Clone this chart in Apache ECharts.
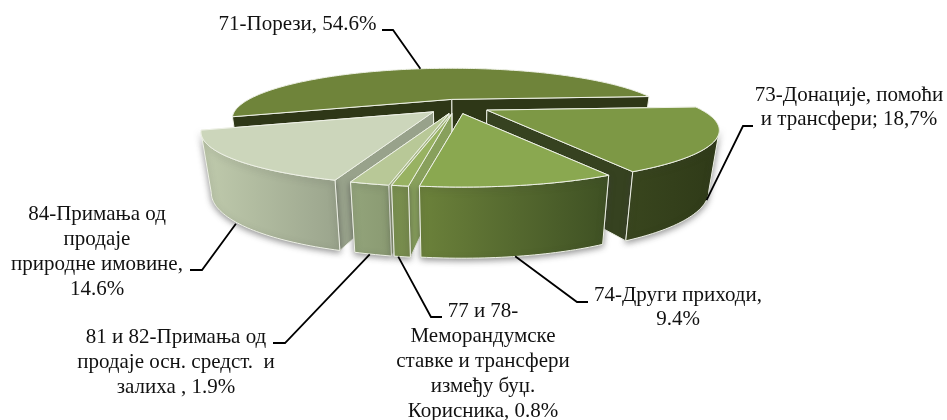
<!DOCTYPE html>
<html><head><meta charset="utf-8">
<style>html,body{margin:0;padding:0;background:#fff}#c{width:947px;height:420px}</style>
<script src="https://cdn.jsdelivr.net/npm/echarts@6/dist/echarts.min.js"></script>
</head><body><div id="c"></div>
<script>
// --- data ---
const categories = ['71-Порези','73-Донације, помоћи и трансфери','74-Други приходи','77 и 78-Меморандумске ставке и трансфери између буџ. Корисника','81 и 82-Примања од продаје осн. средст. и залиха','84-Примања од продаје природне имовине'];
const shares = [54.6, 18.7, 9.4, 0.8, 1.9, 14.6];
const labelTexts = [
  '71-Порези, 54.6%',
  '73-Донације, помоћи\nи трансфери; 18,7%',
  '74-Други приходи,\n9.4%',
  '77 и 78-\nМеморандумске\nставке и трансфери\nизмеђу буџ.\nКорисника, 0.8%',
  '81 и 82-Примања од\nпродаје осн. средст.  и\nзалиха , 1.9%',
  '84-Примања од\nпродаје\nприродне имовине,\n14.6%'
];
// --- layout of the 3-D projection ---
const START = 249.5, CX = 457, CY = 106.5, A = 215, B = 45.5, K = 0.38, E = 0.16, H0 = 55.5, HK = 0.22, S = 0.96;
const drawOrder = [0, 5, 1, 4, 3, 2];
const sliceStyle = [
  {top:'#6f843a', side:'#2e3717', wall:['#3a471d','#2f3a18']},
  {top:'#7d9845', side:'#364220', wall:['#39461e','#2f3a18']},
  {top:'#8aa850', side:'#3d4b20', wall:['#6c823b','#3e5023']},
  {top:'#98b262', side:'#88a05c', wall:['#7b9250','#76894c']},
  {top:'#b8c897', side:'#a9b98a', wall:['#93a47b','#8a9a72']},
  {top:'#ccd6bb', side:'#98a28b', wall:['#c0cbad','#9aa48c']}
];
const labelPos = [[297.5,24],[849,107.5],[678,307.5],[483,361.5],[176,362.5],[97,252]];
const anchorShift = [0,0,-3,-4,-3,-3];
const elbows = [
  [[393,30],[382,30]],
  [[743,126],[753,126]],
  [[577,302],[588,302]],
  [[431,317],[442,317]],
  [[285,343],[273,343]],
  [[202,270],[190,270]]
];
const total = shares.reduce((a,b)=>a+b,0);
const rad = d => d*Math.PI/180;
const spans = []; { let a = START; shares.forEach((s,i)=>{ const e=a+s/total*360; spans.push(i===0?[a,e]:[a-360,e-360]); a=e; }); }
const SIL = Math.acos(-K)*180/Math.PI; // silhouette angle of the projected rim
function midV(i){ return -Math.cos(rad((spans[i][0]+spans[i][1])/2)); }
function depthScale(i){ return Math.min(1, 1/(1-K*E*midV(i))); }
function tipOf(i){ const m=rad((spans[i][0]+spans[i][1])/2); return [CX+A*E*Math.sin(m)+(i===0?2:0), CY-B*E*Math.cos(m)]; }
function topPt(i,d){ const t=tipOf(i), s=depthScale(i), u=Math.sin(rad(d)), v=-Math.cos(rad(d)), w=1-K*v; return [t[0]+s*A*u/w, t[1]+s*B*v/w]; }
function toBottom(p,v){ return [CX+(p[0]-CX)*S, p[1]+H0/(1-HK*v)]; }
function botPt(i,d){ return toBottom(topPt(i,d), -Math.cos(rad(d))); }
function arcPts(i,fn,a,b){ const pts=[], n=Math.max(2,Math.ceil(Math.abs(b-a))); for(let k=0;k<=n;k++) pts.push(fn(i,a+(b-a)*k/n)); return pts; }
// part of a rim that faces the viewer
function frontRange(a,b){
  const lo=Math.max(a,SIL), hi=Math.min(b,360-SIL);
  return hi>lo ? [lo,hi] : null;
}
const EDGE='#eef1e6';
function renderSlice(params){
  const i=params.dataIndex, st=sliceStyle[i], z=drawOrder.indexOf(i)*10;
  const [a,b]=spans[i], t=tipOf(i), tb=toBottom(t,0);
  const topArc=arcPts(i,topPt,a,b);
  const poly=(points,style,zz)=>({type:'polygon',shape:{points},z2:z+zz,style:Object.assign({stroke:EDGE,lineWidth:1},style)});
  const far = -Math.cos(rad(a)) < -Math.cos(rad(b)) ? [a,b] : [b,a];
  const radial = d => poly([t,topPt(i,d),botPt(i,d),tb],{fill:st.side},d===far[0]?1:2);
  const children=[radial(far[0]),radial(far[1])];
  const fr=frontRange(a,b);
  if(fr && i!==0){
    const tp=arcPts(i,topPt,fr[0],fr[1]), bp=arcPts(i,botPt,fr[0],fr[1]);
    children.push(poly(tp.concat(bp.reverse()),{
      fill:{type:'linear',x:0,y:0,x2:1,y2:0,colorStops:[{offset:0,color:st.wall[0]},{offset:1,color:st.wall[1]}]},
      shadowBlur:6,shadowColor:'rgba(60,60,60,0.55)',shadowOffsetY:2},3));
  }
  children.push(poly([t].concat(topArc),{fill:st.top},4));
  return {type:'group',children};
}
function renderLabel(params){
  const i=params.dataIndex, m=(spans[i][0]+spans[i][1])/2;
  const p = i===0 ? topPt(i,m) : botPt(i,m), anchor=[p[0]+anchorShift[i],p[1]];
  return {type:'group',children:[
    {type:'polyline',z2:200,shape:{points:[anchor,elbows[i][0],elbows[i][1]]},style:{stroke:'#000',lineWidth:1.8,fill:null}},
    {type:'text',z2:201,style:{text:labelTexts[i],x:labelPos[i][0],y:labelPos[i][1],align:'center',verticalAlign:'middle',
      font:'21px "Liberation Serif"',lineHeight:i===3?25:24.7,fill:'#111'}}
  ]};
}
const chart=echarts.init(document.getElementById('c'),null,{renderer:'canvas'});
chart.setOption({
  animation:false,backgroundColor:'#fff',
  series:[
    {type:'custom',coordinateSystem:'none',renderItem:renderSlice,silent:true,z:1,
      data:shares.map((v,i)=>({name:categories[i],value:v}))},
    {type:'custom',coordinateSystem:'none',renderItem:renderLabel,silent:true,z:2,
      data:shares.map((v,i)=>({name:categories[i],value:v}))}
  ]
});
</script></body></html>
